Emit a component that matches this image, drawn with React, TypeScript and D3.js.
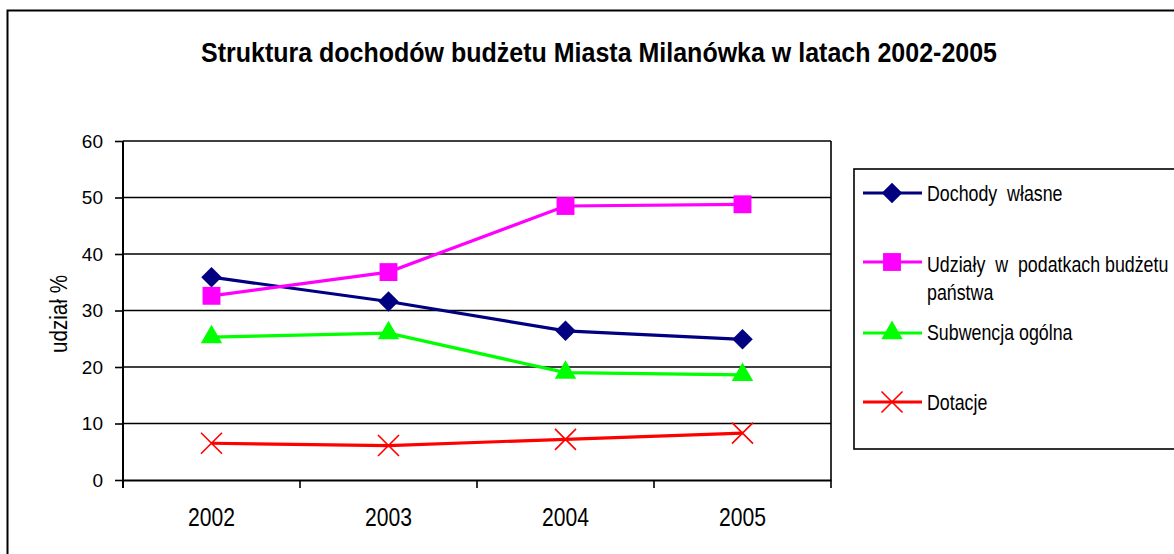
import React, { useEffect, useRef } from 'react';
import * as d3 from 'd3';

const years = ['2002', '2003', '2004', '2005'];
const dochodyWlasne = [35.9, 31.6, 26.4, 24.9];
const udzialy = [32.6, 36.8, 48.5, 48.8];
const subwencja = [25.3, 26.0, 19.0, 18.6];
const dotacje = [6.5, 6.1, 7.2, 8.3];
const yTicks = [0, 10, 20, 30, 40, 50, 60];
const seriesNames = ['Dochody  własne', 'Udziały  w  podatkach budżetu', 'Subwencja ogólna', 'Dotacje'];

const W = 1174;
const H = 554;
const FONT = '"Liberation Sans", Arial, sans-serif';

export default function App() {
  const svgRef = useRef<SVGSVGElement>(null);

  useEffect(() => {
    const svg = d3.select(svgRef.current);
    svg.selectAll('*').remove();

    const plot = { left: 123, right: 831, top: 141, bottom: 480 };

    const x = d3.scaleBand().domain(years).range([plot.left, plot.right]).padding(0);
    const y = d3.scaleLinear().domain([0, 60]).range([plot.bottom, plot.top]);
    const cx = (d: string) => (x(d) as number) + x.bandwidth() / 2;

    // outer chart border
    svg.append('rect')
      .attr('x', 7.5).attr('y', 10.5)
      .attr('width', W + 20).attr('height', H + 20)
      .attr('fill', '#fff').attr('stroke', '#000').attr('stroke-width', 2);

    // title (condensed, like the original narrow font)
    svg.append('text')
      .attr('x', 599).attr('y', 61.5)
      .attr('text-anchor', 'middle')
      .attr('font-family', FONT)
      .attr('font-weight', 'bold')
      .attr('font-size', 27)
      .attr('textLength', 796)
      .attr('lengthAdjust', 'spacingAndGlyphs')
      .text('Struktura dochodów budżetu Miasta Milanówka w latach 2002-2005');

    // gridlines
    svg.append('g')
      .selectAll('line')
      .data(yTicks.filter(t => t > 0))
      .enter()
      .append('line')
      .attr('x1', plot.left).attr('x2', plot.right)
      .attr('y1', d => y(d)).attr('y2', d => y(d))
      .attr('stroke', '#000').attr('stroke-width', 1.6);

    // right border of plot area
    svg.append('line')
      .attr('x1', plot.right).attr('x2', plot.right)
      .attr('y1', plot.top).attr('y2', plot.bottom)
      .attr('stroke', '#000').attr('stroke-width', 1.6);

    // y axis
    const yAxis = d3.axisLeft(y).tickValues(yTicks).tickSize(8).tickPadding(12);
    const gy = svg.append('g')
      .attr('transform', `translate(${plot.left},0)`)
      .call(yAxis);
    gy.select('.domain').attr('stroke-width', 2).attr('d', `M-0,${plot.top}V${plot.bottom + 8}`);
    gy.selectAll('.tick line').attr('stroke-width', 1.6);
    gy.selectAll('.tick text')
      .attr('font-family', FONT).attr('font-size', 19).attr('fill', '#000');

    // x axis
    const xAxis = d3.axisBottom(x).tickSize(0);
    const gx = svg.append('g')
      .attr('transform', `translate(0,${plot.bottom})`)
      .call(xAxis);
    gx.select('.domain').attr('stroke-width', 2.2);
    gx.selectAll('.tick text')
      .attr('y', 45.5).attr('dy', 0)
      .attr('font-family', FONT).attr('font-size', 25).attr('fill', '#000')
      .attr('textLength', 47).attr('lengthAdjust', 'spacingAndGlyphs');
    // category boundary ticks
    const bounds = years.map(d => x(d) as number).concat([plot.right]);
    gx.append('g')
      .selectAll('line')
      .data(bounds)
      .enter()
      .append('line')
      .attr('x1', d => d).attr('x2', d => d)
      .attr('y1', 0).attr('y2', 8)
      .attr('stroke', '#000').attr('stroke-width', 1.6);

    // y axis label
    svg.append('text')
      .attr('transform', 'rotate(-90)')
      .attr('x', -314).attr('y', 67)
      .attr('text-anchor', 'middle')
      .attr('font-family', FONT).attr('font-size', 23)
      .attr('textLength', 78).attr('lengthAdjust', 'spacingAndGlyphs')
      .text('udział %');

    const series = [
      { name: seriesNames[0], values: dochodyWlasne, color: '#000080', marker: 'diamond' },
      { name: seriesNames[1], values: udzialy, color: '#ff00ff', marker: 'square' },
      { name: seriesNames[2], values: subwencja, color: '#00ff00', marker: 'triangle' },
      { name: seriesNames[3], values: dotacje, color: '#ff0000', marker: 'times' },
    ];

    const markerPath = (m: string) => {
      if (m === 'diamond') return d3.symbol(d3.symbolSquare, 210)();
      if (m === 'square') return d3.symbol(d3.symbolSquare, 320)();
      if (m === 'triangle') return d3.symbol(d3.symbolTriangle, 200)();
      return d3.symbol(d3.symbolTimes, 290)();
    };

    const drawMarker = (g: any, m: string, color: string, px: number, py: number) => {
      const rot = m === 'diamond' ? ' rotate(45)' : '';
      const p = g.append('path')
        .attr('d', markerPath(m))
        .attr('transform', `translate(${px},${py})${rot}`);
      if (m === 'times') {
        p.attr('fill', 'none').attr('stroke', color).attr('stroke-width', 1.6);
      } else {
        p.attr('fill', color).attr('stroke', 'none');
      }
    };

    const line = d3.line<number>()
      .x((_, i) => cx(years[i]))
      .y(d => y(d));

    series.forEach(s => {
      const g = svg.append('g');
      g.append('path')
        .attr('d', line(s.values))
        .attr('fill', 'none')
        .attr('stroke', s.color)
        .attr('stroke-width', 3.2);
      s.values.forEach((v, i) => drawMarker(g, s.marker, s.color, cx(years[i]), y(v)));
    });

    // legend
    const legend = svg.append('g');
    legend.append('rect')
      .attr('x', 854).attr('y', 169)
      .attr('width', 340).attr('height', 280)
      .attr('fill', '#fff').attr('stroke', '#000').attr('stroke-width', 1.6);

    const rowsY = [193, 262, 333, 402];
    const baselines = [201, 271.5, 340, 410];
    // legend labels: normal width, stretched vertically like the narrow original font
    const addLegendText = (label: string, base: number) =>
      legend.append('text')
        .attr('x', 927).attr('y', 0)
        .attr('transform', `translate(0,${base}) scale(1,1.28)`)
        .attr('font-family', FONT).attr('font-size', 17.8)
        .attr('xml:space', 'preserve')
        .style('white-space', 'pre')
        .text(label);

    series.forEach((s, i) => {
      const ly = rowsY[i];
      legend.append('line')
        .attr('x1', 863).attr('x2', 922)
        .attr('y1', ly).attr('y2', ly)
        .attr('stroke', s.color).attr('stroke-width', 3.2);
      drawMarker(legend, s.marker, s.color, 892, ly);
      addLegendText(s.name, baselines[i]);
      if (i === 1) addLegendText('państwa', 300);
    });
  }, []);

  return (
    <svg
      ref={svgRef}
      width={W}
      height={H}
      style={{ position: 'absolute', left: 0, top: 0, background: '#fff' }}
    />
  );
}
